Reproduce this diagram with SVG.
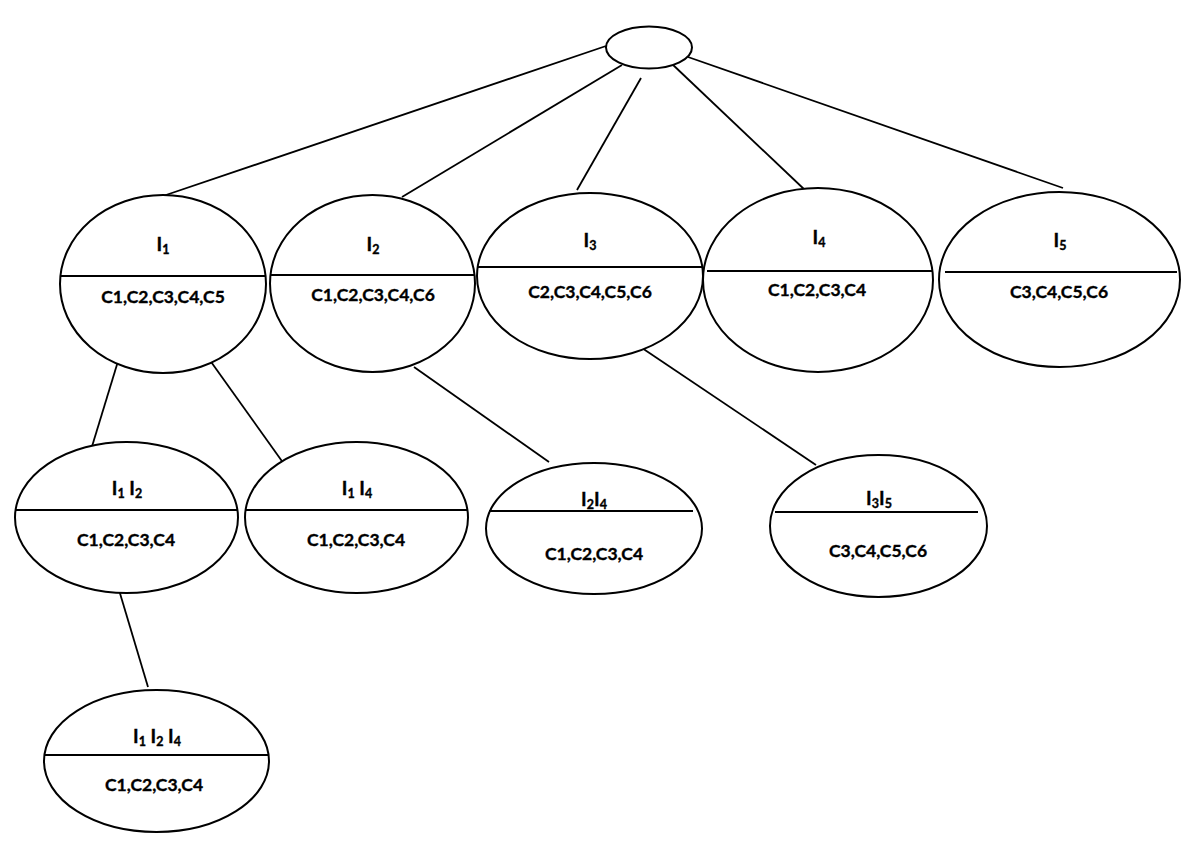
<svg xmlns="http://www.w3.org/2000/svg" width="1200" height="853" viewBox="0 0 1200 853">
<style>
.n{fill:#fff;stroke:#000;stroke-width:2}
.d{stroke:#000;stroke-width:2}
.e line{stroke:#000;stroke-width:1.8}
text{font-family:Lato,"Liberation Sans",sans-serif;font-weight:bold;fill:#000;text-anchor:middle;stroke:#000;stroke-width:0.35}
.t{font-size:17.5px}
.l{font-size:19px}
.s{font-size:12.5px}
</style>
<rect width="1200" height="853" fill="#fff"/>
<g id="edges" class="e">
<line x1="606" y1="46" x2="163" y2="196"/>
<line x1="622" y1="65" x2="402" y2="197"/>
<line x1="641" y1="78" x2="577" y2="190"/>
<line x1="671" y1="63" x2="806" y2="191"/>
<line x1="688" y1="57" x2="1063" y2="188"/>
<line x1="119" y1="358" x2="90" y2="453"/>
<line x1="209" y1="359" x2="284" y2="464"/>
<line x1="119" y1="590" x2="148" y2="687"/>
<line x1="414" y1="367" x2="549" y2="462"/>
<line x1="642" y1="348" x2="816" y2="465"/>
</g>
<g id="root"><ellipse class="n" cx="649" cy="47.5" rx="43" ry="21"/></g>
<g id="I1">
<ellipse class="n" cx="163" cy="284" rx="103" ry="89"/>
<line class="d" x1="61" y1="276" x2="265" y2="276"/>
<text class="l" x="163" y="251">I<tspan class="s" dy="3">1</tspan></text>
<text class="t" x="163" y="303">C1,C2,C3,C4,C5</text>
</g>
<g id="I2">
<ellipse class="n" cx="372.5" cy="283.5" rx="102.5" ry="88.5"/>
<line class="d" x1="271" y1="275" x2="474" y2="275"/>
<text class="l" x="373" y="251">I<tspan class="s" dy="3">2</tspan></text>
<text class="t" x="373" y="301">C1,C2,C3,C4,C6</text>
</g>
<g id="I3">
<ellipse class="n" cx="590" cy="276" rx="113" ry="83"/>
<line class="d" x1="478" y1="267" x2="702" y2="267"/>
<text class="l" x="590" y="247">I<tspan class="s" dy="3">3</tspan></text>
<text class="t" x="590" y="298">C2,C3,C4,C5,C6</text>
</g>
<g id="I4">
<ellipse class="n" cx="818" cy="280" rx="115" ry="92"/>
<line class="d" x1="707" y1="271" x2="932" y2="271"/>
<text class="l" x="819" y="244">I<tspan class="s" dy="3">4</tspan></text>
<text class="t" x="817" y="296">C1,C2,C3,C4</text>
</g>
<g id="I5">
<ellipse class="n" cx="1059.5" cy="279.5" rx="120.5" ry="87.5"/>
<line class="d" x1="945" y1="272" x2="1177" y2="272"/>
<text class="l" x="1060" y="247">I<tspan class="s" dy="3">5</tspan></text>
<text class="t" x="1059" y="298">C3,C4,C5,C6</text>
</g>
<g id="I1I2">
<ellipse class="n" cx="126.5" cy="517.5" rx="111.5" ry="75.5"/>
<line class="d" x1="15" y1="510" x2="238" y2="510"/>
<text class="l" x="127" y="495">I<tspan class="s" dy="3">1</tspan><tspan dy="-3"> I</tspan><tspan class="s" dy="3">2</tspan></text>
<text class="t" x="126" y="546">C1,C2,C3,C4</text>
</g>
<g id="I1I4">
<ellipse class="n" cx="356.5" cy="517.5" rx="111.5" ry="75.5"/>
<line class="d" x1="245" y1="510" x2="468" y2="510"/>
<text class="l" x="357" y="495">I<tspan class="s" dy="3">1</tspan><tspan dy="-3"> I</tspan><tspan class="s" dy="3">4</tspan></text>
<text class="t" x="356" y="546">C1,C2,C3,C4</text>
</g>
<g id="I2I4">
<ellipse class="n" cx="594" cy="528.5" rx="108" ry="65.5"/>
<line class="d" x1="489" y1="511" x2="693" y2="511"/>
<text class="l" x="594" y="506">I<tspan class="s" dy="3">2</tspan><tspan dy="-3">I</tspan><tspan class="s" dy="3">4</tspan></text>
<text class="t" x="594" y="560">C1,C2,C3,C4</text>
</g>
<g id="I3I5">
<ellipse class="n" cx="878.5" cy="526" rx="108.5" ry="71"/>
<line class="d" x1="775" y1="512" x2="978" y2="512"/>
<text class="l" x="879" y="505">I<tspan class="s" dy="3">3</tspan><tspan dy="-3">I</tspan><tspan class="s" dy="3">5</tspan></text>
<text class="t" x="878" y="557">C3,C4,C5,C6</text>
</g>
<g id="I1I2I4">
<ellipse class="n" cx="156.5" cy="761" rx="112.5" ry="71"/>
<line class="d" x1="44" y1="755" x2="269" y2="755"/>
<text class="l" x="157" y="743">I<tspan class="s" dy="3">1</tspan><tspan dy="-3"> I</tspan><tspan class="s" dy="3">2</tspan><tspan dy="-3"> I</tspan><tspan class="s" dy="3">4</tspan></text>
<text class="t" x="154" y="791">C1,C2,C3,C4</text>
</g>
</svg>
